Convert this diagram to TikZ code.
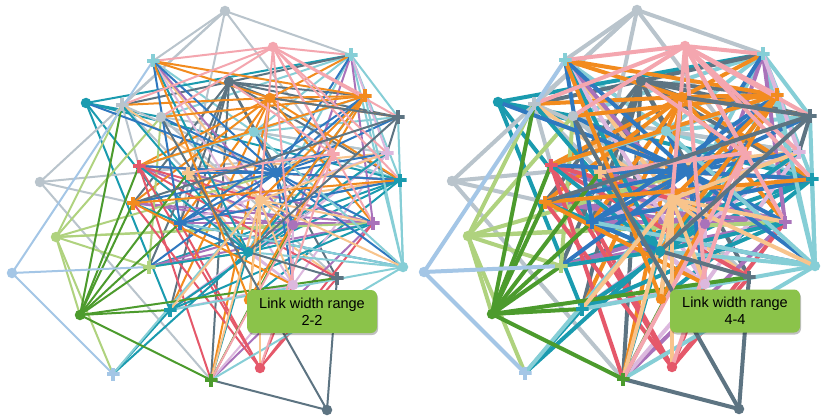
\documentclass[tikz,border=0pt]{standalone}
\usepackage{fontspec}
\setsansfont{Liberation Sans}
\usetikzlibrary{backgrounds,shadows}
\pgfdeclarelayer{bottom}
\pgfsetlayers{bottom,background,main}
\definecolor{cgray}{HTML}{B9C4CC}
\definecolor{cpink}{HTML}{F4A6AF}
\definecolor{clteal}{HTML}{86CED6}
\definecolor{cslate}{HTML}{5D7482}
\definecolor{corange}{HTML}{F28B1E}
\definecolor{cteal}{HTML}{1A9BAF}
\definecolor{clav}{HTML}{DCB8DE}
\definecolor{cred}{HTML}{E5586A}
\definecolor{cblue}{HTML}{2F78BF}
\definecolor{clorange}{HTML}{F8C48C}
\definecolor{cpurple}{HTML}{A972BA}
\definecolor{clgreen}{HTML}{AFD27E}
\definecolor{clblue}{HTML}{A4C6E6}
\definecolor{cdgreen}{HTML}{4C9B2D}
\definecolor{tipgreen}{HTML}{8BC34A}

\def\circlist{A/225/11/cgray, B/273/47/cpink, E/229/82/cslate, F/270/98/corange,
 I/86/103/cteal, K/161/117/cgray, L/254/132/clteal, P/276/173/cblue, R/40/182/cgray,
 T/260/200/clorange, W/293/225/cpurple, Y/56/237/clgreen, Z/248/252/cteal,
 a/12/273/clblue, c/403/267/clteal, e/293/285/clav, f/80/315/cdgreen, h/249/300/corange,
 i/260/368/cred, l/327/410/cslate}
\def\pluslist{C/351/55/clteal, D/153/61/clteal, G/365/96/corange, H/398/117/cslate,
 J/122/105/cgray, M/333/154/cpink, N/387/153/clav, O/139/166/cred, Q/400/180/cteal,
 S/188/173/clorange, U/133/203/corange, V/180/223/cblue, X/373/223/cpurple,
 b/149/267/clgreen, d/337/278/cslate, g/170/310/cteal, j/113/374/clblue, k/211/380/cdgreen}
\def\edgelist{
 C/H/clteal, C/c/clteal, C/Q/clteal, C/L/clteal, C/Z/clteal, C/K/clteal, D/L/clteal,
 L/H/clteal, L/Q/clteal, L/N/clteal,
 I/C/cteal, I/K/cteal, I/g/cteal, I/Q/cteal, I/V/cteal, Q/O/cteal, Q/Z/cteal, Q/V/cteal,
 Q/b/cteal, Q/h/cteal,
 A/R/cgray, A/J/cgray, A/D/cgray, A/C/cgray, A/M/cgray, A/V/cgray, R/M/cgray,
 R/U/cgray, R/k/cgray, J/P/cgray, J/O/cgray, K/N/cgray, K/d/cgray, J/S/cgray,
 E/C/cslate, E/H/cslate, E/G/cslate, E/Q/cslate, E/d/cslate, E/U/cslate, E/V/cslate,
 E/g/cslate, E/F/cslate, E/b/cslate, E/P/cslate, E/k/cslate, E/J/cslate,
 S/T/clorange, S/N/clorange, S/d/clorange, S/Z/clorange, S/X/clorange, T/D/clorange,
 T/Q/clorange, T/J/clorange,
 W/D/cpurple, W/C/cpurple, W/b/cpurple, W/g/cpurple, W/X/cpurple, W/U/cpurple, W/O/cpurple,
 X/C/cpurple, X/k/cpurple, X/U/cpurple, X/b/cpurple, X/V/cpurple, X/S/cpurple,
 F/D/corange, F/J/corange, F/G/corange, F/H/corange, F/C/corange, F/U/corange, F/k/corange,
 F/h/corange, F/V/corange, F/O/corange, F/Q/corange, F/X/corange, F/g/corange,
 N/C/clav, N/W/clav, N/g/clav, N/V/clav, e/g/clav, e/W/clav, e/k/clav, e/Z/clav, e/O/clav,
 e/N/clav, e/D/clav,
 Y/J/clgreen, Y/K/clgreen, Y/X/clgreen, Y/W/clgreen, Y/f/clgreen, Y/b/clgreen, Y/j/clgreen,
 Y/P/clgreen, b/K/clgreen, b/Z/clgreen,
 O/i/cred, O/k/cred, O/Q/cred, O/T/cred, O/d/cred, i/V/cred, i/d/cred, i/X/cred, i/U/cred,
 i/e/cred,
 Z/D/cteal, Z/G/cteal, Z/N/cteal, Z/X/cteal, Z/j/cteal, Z/k/cteal,
 Z/b/cteal, Z/J/cteal, Z/U/cteal, Z/O/cteal, Z/M/cteal, g/W/cteal, g/j/cteal, g/X/cteal,
 P/D/cblue, P/C/cblue, P/O/cblue, P/Q/cblue, P/H/cblue, P/N/cblue, P/U/cblue, P/V/cblue,
 P/b/cblue, P/G/cblue, P/S/cblue, P/X/cblue, P/W/cblue, P/e/cblue, P/c/cblue,
 P/M/cblue, P/L/cblue, P/K/cblue, P/I/cblue,
 V/G/cblue, V/Q/cblue, V/Z/cblue, V/c/cblue, V/D/cblue,
 L/O/clteal, L/c/clteal, L/G/clteal, c/H/clteal,
 c/Q/clteal, c/Z/clteal, c/k/clteal, c/g/clteal, c/V/clteal, c/G/clteal, j/T/clteal,
 f/J/cdgreen, f/O/cdgreen, f/S/cdgreen, f/V/cdgreen, f/U/cdgreen, f/b/cdgreen, f/g/cdgreen,
 f/d/cdgreen, f/k/cdgreen, k/W/cdgreen,
 G/D/corange, G/Z/corange, G/O/corange, G/T/corange, G/h/corange, G/K/corange,
 U/Q/corange, U/e/corange, h/D/corange,
 T/X/clorange, T/h/clorange, T/W/clorange, T/e/clorange,
 T/N/clorange, T/c/clorange, T/g/clorange, T/i/clorange, T/k/clorange,
 B/D/cpink, B/J/cpink, B/C/cpink, B/G/cpink, B/H/cpink, B/M/cpink, B/N/cpink, B/K/cpink,
 B/Q/cpink, B/e/cpink, B/T/cpink, B/X/cpink, M/i/cpink, M/S/cpink, M/k/cpink, M/E/cpink,
 H/F/cslate, H/Z/cslate, H/N/cslate, H/U/cslate, d/l/cslate, l/k/cslate, l/K/cslate, d/Z/cslate,
 a/D/clblue, a/b/clblue, a/j/clblue}

\tikzset{
 circn/.style={circle, inner sep=0pt, minimum size=10.5pt},
 plusn/.style={rectangle, inner sep=0pt, minimum size=13pt,
  path picture={\fill[#1] ([yshift=-2pt]path picture bounding box.west) rectangle ([yshift=2pt]path picture bounding box.east);
   \fill[#1] ([xshift=-2pt]path picture bounding box.north) rectangle ([xshift=2pt]path picture bounding box.south);}},
 tipbox/.style={fill=tipgreen, rounded corners=6pt, minimum width=130pt, minimum height=43pt,
  inner sep=0pt, align=center, text=black, font=\sffamily\fontsize{14.5}{17}\selectfont,
  drop shadow={shadow xshift=1pt, shadow yshift=-2pt, opacity=0.25, fill=black}}
}

\newcommand\drawnet[3]{%
 \begin{scope}[#2]
 \foreach \n/\x/\y/\col in \circlist {\node[circn, fill=\col] (#1\n) at (\x,\y) {};}
 \foreach \n/\x/\y/\col in \pluslist {\node[plusn=\col] (#1\n) at (\x,\y) {};}
 \begin{pgfonlayer}{background}
 \foreach \ea/\eb/\ec in \edgelist {\draw[\ec, line width=#3] (#1\ea.center) -- (#1\eb.center);}
 \end{pgfonlayer}
 \end{scope}}

\begin{document}
\begin{tikzpicture}[x=1pt,y=-1pt]
\begin{pgfonlayer}{bottom}
\fill[white] (0,0) rectangle (828,420);
\end{pgfonlayer}
\useasboundingbox (0,0) rectangle (828,420);
\drawnet{l}{xshift=0pt}{2pt}
\drawnet{r}{xshift=412pt,yshift=1pt}{4pt}
\node[tipbox] (ltip) at (312,311.5) {Link width range\\2-2};
\node[tipbox] (rtip) at (735,311) {Link width range\\4-4};
\end{tikzpicture}
\end{document}
